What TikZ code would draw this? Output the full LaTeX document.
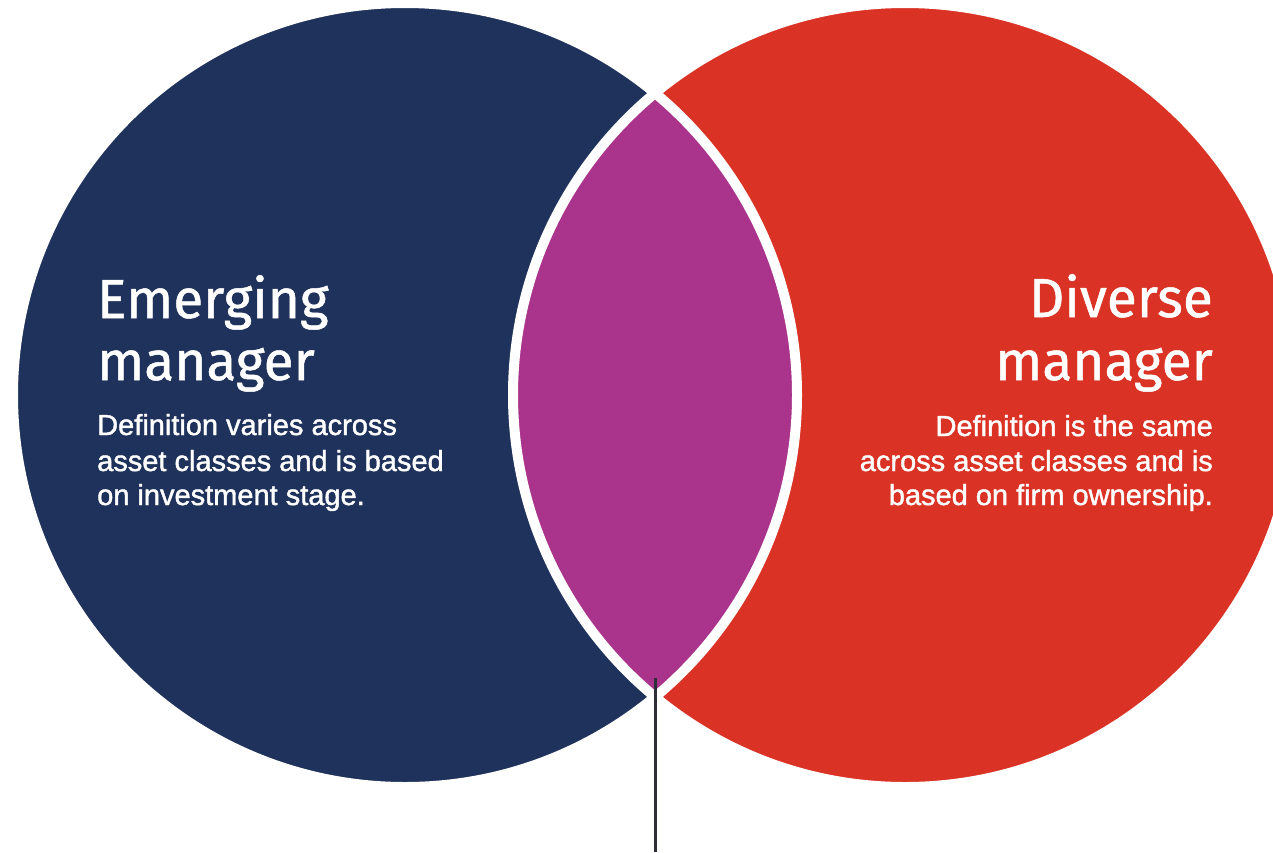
\documentclass[tikz,border=0pt]{standalone}
\usepackage{fontspec}
\newfontfamily\titlefont{Fira Sans}[FakeBold=0.9]
\newfontfamily\bodyfont{Liberation Sans}[FakeBold=1.4]
\definecolor{navy}{HTML}{1F325B}
\definecolor{vred}{HTML}{DA3224}
\definecolor{lens}{HTML}{AA348C}
\definecolor{pointer}{HTML}{2E2E38}
\tikzset{
  titleline/.style={text=white, inner sep=0pt, font=\titlefont\fontsize{55}{62}\selectfont},
  bodyline/.style={text=white, inner sep=0pt, font=\bodyfont\fontsize{29}{35}\selectfont},
  ringline/.style={draw=white, line width=10pt},
  pointerline/.style={draw=pointer, line width=3pt}
}
\begin{document}
\begin{tikzpicture}[x=1pt, y=-1pt]
  \useasboundingbox (0,0) rectangle (1273,852);
  \fill[white] (0,0) rectangle (1273,852);
  \clip (0,0) rectangle (1273,852);
  \coordinate (cl) at (405,395);
  \coordinate (cr) at (905,395);
  % circles
  \fill[navy] (cl) circle [radius=392pt];
  \fill[vred] (cr) circle [radius=392pt];
  \begin{scope}
    \clip (cl) circle [radius=392pt];
    \fill[lens] (cr) circle [radius=392pt];
  \end{scope}
  \path[ringline] (cl) circle [radius=392pt];
  \path[ringline] (cr) circle [radius=392pt];
  % pointer
  \coordinate (ptop) at (655,678);
  \coordinate (pend) at (655,852);
  \draw[pointerline] (ptop) -- (pend);
  % left text
  \node[titleline, anchor=base west] (lt1) at (97,318) {Emerging};
  \node[titleline, anchor=base west] (lt2) at (97,380) {manager};
  \node[bodyline, anchor=base west] (lb1) at (97,435) {Definition varies across};
  \node[bodyline, anchor=base west] (lb2) at (97,471) {asset classes and is based};
  \node[bodyline, anchor=base west] (lb3) at (97,505) {on investment stage.};
  % right text
  \node[titleline, anchor=base east] (rt1) at (1213,317) {Diverse};
  \node[titleline, anchor=base east] (rt2) at (1213,380) {manager};
  \node[bodyline, anchor=base east] (rb1) at (1213,436) {Definition is the same};
  \node[bodyline, anchor=base east] (rb2) at (1213,471) {across asset classes and is};
  \node[bodyline, anchor=base east] (rb3) at (1213,505) {based on firm ownership.};
\end{tikzpicture}
\end{document}
